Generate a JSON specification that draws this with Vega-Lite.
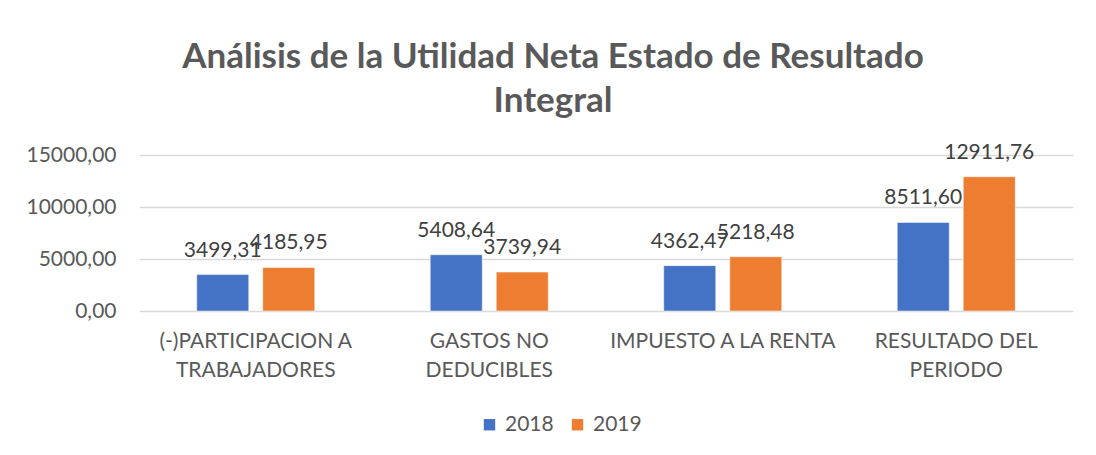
{
  "$schema": "https://vega.github.io/schema/vega-lite/v6.json",
  "width": 934,
  "height": 156,
  "autosize": {"type": "none"},
  "padding": {"left": 139, "top": 155, "right": 23, "bottom": 144},
  "background": "white",
  "title": {
    "text": ["Análisis de la Utilidad Neta Estado de Resultado", "Integral"],
    "font": "Lato",
    "fontSize": 35,
    "fontWeight": "bold",
    "color": "#595959",
    "lineHeight": 44,
    "anchor": "middle",
    "dx": -53,
    "offset": 23
  },
  "data": {
    "values": [
      {"concepto": "(-)PARTICIPACION A TRABAJADORES", "anio": "2018", "valor": 3499.31, "etiqueta": "3499,31"},
      {"concepto": "(-)PARTICIPACION A TRABAJADORES", "anio": "2019", "valor": 4185.95, "etiqueta": "4185,95"},
      {"concepto": "GASTOS NO DEDUCIBLES", "anio": "2018", "valor": 5408.64, "etiqueta": "5408,64"},
      {"concepto": "GASTOS NO DEDUCIBLES", "anio": "2019", "valor": 3739.94, "etiqueta": "3739,94"},
      {"concepto": "IMPUESTO A LA RENTA", "anio": "2018", "valor": 4362.47, "etiqueta": "4362,47"},
      {"concepto": "IMPUESTO A LA RENTA", "anio": "2019", "valor": 5218.48, "etiqueta": "5218,48"},
      {"concepto": "RESULTADO DEL PERIODO", "anio": "2018", "valor": 8511.60, "etiqueta": "8511,60"},
      {"concepto": "RESULTADO DEL PERIODO", "anio": "2019", "valor": 12911.76, "etiqueta": "12911,76"}
    ]
  },
  "encoding": {
    "x": {
      "field": "concepto",
      "type": "nominal",
      "sort": null,
      "scale": {"paddingInner": 0.4946, "paddingOuter": 0.2473},
      "axis": {
        "title": null,
        "labelAngle": 0,
        "labelFont": "Lato",
        "labelFontSize": 21,
        "labelColor": "#595959",
        "labelExpr": "datum.value == '(-)PARTICIPACION A TRABAJADORES' ? ['(-)PARTICIPACION A', 'TRABAJADORES'] : datum.value == 'GASTOS NO DEDUCIBLES' ? ['GASTOS NO', 'DEDUCIBLES'] : datum.value == 'RESULTADO DEL PERIODO' ? ['RESULTADO DEL', 'PERIODO'] : datum.value",
        "labelLineHeight": 29,
        "labelPadding": 19,
        "labelLimit": 300,
        "ticks": false,
        "domain": false,
        "grid": false
      }
    },
    "xOffset": {"field": "anio", "type": "nominal", "scale": {"paddingInner": 0.212, "paddingOuter": 0}},
    "y": {
      "field": "valor",
      "type": "quantitative",
      "scale": {"domain": [0, 15000], "nice": false},
      "axis": {
        "title": null,
        "values": [0, 5000, 10000, 15000],
        "labelExpr": "replace(format(datum.value, '.2f'), '.', ',')",
        "labelFont": "Lato",
        "labelFontSize": 21,
        "labelColor": "#595959",
        "labelPadding": 23,
        "ticks": false,
        "domain": false,
        "gridColor": "#d9d9d9",
        "gridWidth": 1.5
      }
    }
  },
  "layer": [
    {
      "mark": {"type": "bar", "stroke": "white", "strokeWidth": 0.5},
      "encoding": {
        "color": {
          "field": "anio",
          "type": "nominal",
          "scale": {"domain": ["2018", "2019"], "range": ["#4472C4", "#ED7D31"]},
          "legend": {
            "title": null,
            "orient": "none",
            "direction": "horizontal",
            "legendX": 340,
            "legendY": 259,
            "symbolType": "square",
            "symbolSize": 130,
            "symbolStrokeWidth": 0,
            "labelFont": "Lato",
            "labelFontSize": 21,
            "labelColor": "#595959",
            "columnPadding": 13,
            "labelOffset": 5
          }
        }
      }
    },
    {
      "mark": {"type": "text", "font": "Lato", "fontSize": 21, "color": "#404040", "baseline": "alphabetic", "dy": -18},
      "encoding": {"text": {"field": "etiqueta"}}
    }
  ],
  "config": {"view": {"stroke": null}}
}
